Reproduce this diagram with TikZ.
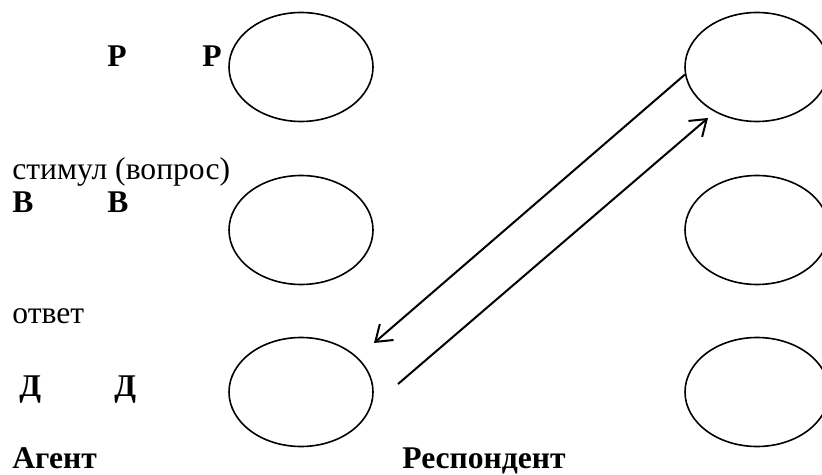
\documentclass[tikz,border=0pt]{standalone}
\usepackage{fontspec}
\setmainfont{Liberation Serif}
\usetikzlibrary{calc,arrows.meta,shapes.geometric}

\begin{document}
\begin{tikzpicture}[x=0.5pt, y=-0.5pt,
        egostate/.style={ellipse, draw=black, line width=0.8pt,
                         minimum width=72pt, minimum height=54.5pt, inner sep=0pt},
        lbl/.style={anchor=base west, inner sep=0pt, font=\fontsize{15.8}{18}\selectfont},
        blbl/.style={lbl, font=\fontsize{15.8}{18}\selectfont\bfseries},
        arr/.style={-{Straight Barb[length=7.5pt,width=10.5pt]}, line width=1pt}
    ]
        \useasboundingbox (0,0) rectangle (822,475);

        % agent states
        \node[egostate] (aP) at (301,67) {};
        \node[egostate] (aB) at (301,230) {};
        \node[egostate] (aD) at (301,392) {};

        % respondent states
        \node[egostate] (rP) at (757,67) {};
        \node[egostate] (rB) at (757,230) {};
        \node[egostate] (rD) at (757,392) {};

        \node[blbl] (p1) at (107,67) {Р};
        \node[blbl] (p2) at (202,67) {Р};
        \node[lbl] (stim) at (12,180) {стимул (вопрос)};
        \node[blbl] (b1) at (12,213) {В};
        \node[blbl] (b2) at (107,213) {В};
        \node[lbl] (resp) at (12,323) {ответ};
        \node[blbl] (d1) at (19,396) {Д};
        \node[blbl] (d2) at (114,396) {Д};
        \node[blbl] (agent) at (12,468) {Агент};
        \node[blbl] (respondent) at (402,468) {Респондент};

        \coordinate (askTip) at ($(aD.center)+(73,-49)$);
        \coordinate (ansTail) at ($(aD.center)+(97,-8)$);
        \coordinate (ansTip) at ($(rP.center)+(-49,51)$);

        \draw[arr] (rP.186) -- (askTip);
        \draw[arr] (ansTail) -- (ansTip);
    \end{tikzpicture}
\end{document}
